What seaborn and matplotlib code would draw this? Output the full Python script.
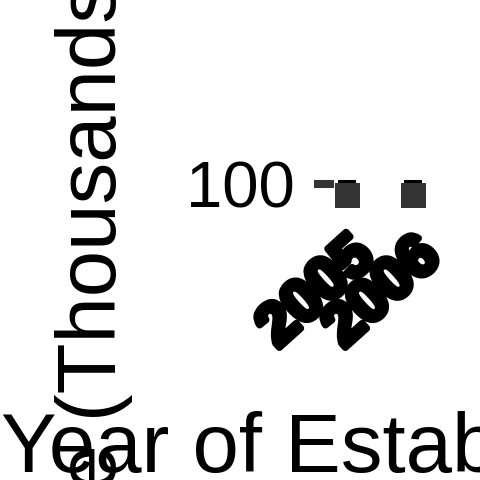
import numpy as np
import matplotlib.pyplot as plt
import matplotlib.transforms as mtransforms
import matplotlib.patheffects as pe
import seaborn as sns

# values
years = ['2005', '2006']
revenue = [95.4, 95.4]
upper = [100.8, 100.8]
yticks = [100]

sns.set_theme(style='white')
plt.rcParams['font.family'] = ['Liberation Sans', 'DejaVu Sans']
plt.rcParams.update({'text.color': 'black', 'axes.labelcolor': 'black',
                     'xtick.labelcolor': 'black', 'ytick.labelcolor': 'black'})

fig = plt.figure(figsize=(4.8, 4.8), dpi=100)
ax = fig.add_axes([0.696, 0.5625, 0.1896, 0.0667])

# upper error caps (black bars above the squares)
err = np.array(upper) - np.array(revenue)
ax.errorbar(range(len(years)), revenue, yerr=[np.zeros_like(err), err],
            fmt='none', ecolor='black', elinewidth=2.9, capsize=6.8,
            capthick=2.9, zorder=1)

sns.pointplot(x=years, y=revenue, ax=ax, color='#333333', markers='s',
              linestyle='none', errorbar=None, markersize=18,
              markeredgewidth=0, zorder=3)

ax.set_xlim(-0.19, 1.19)
ax.set_ylim(89.6, 102.4)
ax.set_yticks(yticks)
ax.set_yticklabels([str(v) for v in yticks], fontsize=47)
ax.tick_params(axis='y', length=14.4, width=5.8, color='#333333', pad=13.7,
               left=True)
ax.tick_params(axis='x', length=0, pad=13)

# heavy, rotated year labels, pushed a bit right of their ticks
shift = mtransforms.ScaledTranslation(0.38, 0, fig.dpi_scale_trans)
for lab in ax.get_xticklabels():
    lab.set_fontsize(43)
    lab.set_fontweight('bold')
    lab.set_rotation(42)
    lab.set_ha('right')
    lab.set_transform(lab.get_transform() + shift)
    lab.set_path_effects([pe.withStroke(linewidth=5, foreground='black')])

sns.despine(ax=ax, left=True, bottom=True)

ax.set_xlabel('Year of Establishment', fontsize=60)
ax.set_ylabel('Revenue (Thousands)', fontsize=60)
ax.xaxis.set_label_coords(0.843, 0.144, transform=fig.transFigure)
ax.yaxis.set_label_coords(0.277, 0.2385, transform=fig.transFigure)

fig.savefig('out.png', dpi=100)
